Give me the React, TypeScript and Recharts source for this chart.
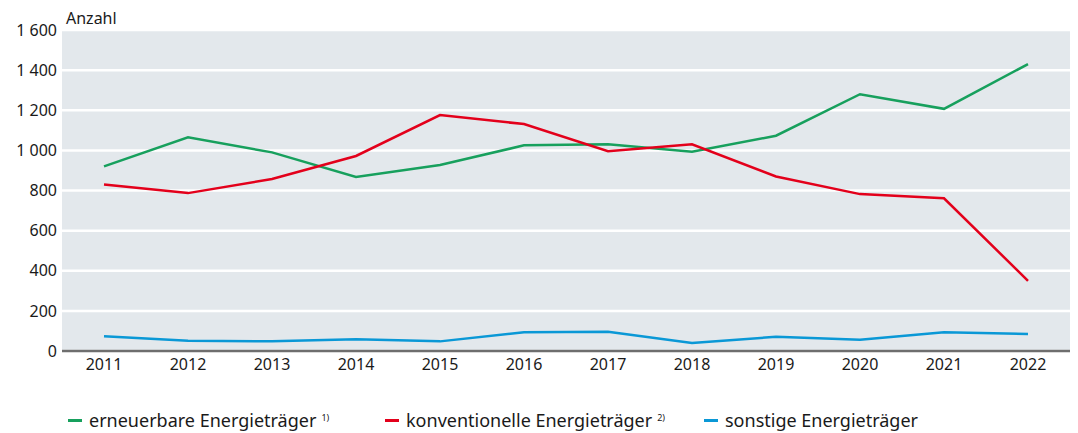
import { LineChart, Line, XAxis, YAxis, CartesianGrid, Legend } from "recharts"

const years = ["2011", "2012", "2013", "2014", "2015", "2016", "2017", "2018", "2019", "2020", "2021", "2022"]
const erneuerbar = [920, 1065, 990, 867, 927, 1025, 1030, 993, 1073, 1280, 1207, 1430]
const konventionell = [830, 787, 857, 972, 1176, 1131, 996, 1030, 870, 782, 761, 350]
const sonstige = [73, 51, 48, 58, 48, 93, 96, 40, 71, 56, 93, 85]
const yTicks = [0, 200, 400, 600, 800, 1000, 1200, 1400, 1600]

const series = [
  { key: "erneuerbar", name: "erneuerbare Energieträger", sup: "1)", color: "#17a05d" },
  { key: "konventionell", name: "konventionelle Energieträger", sup: "2)", color: "#e3001b" },
  { key: "sonstige", name: "sonstige Energieträger", sup: "", color: "#0a98d6" },
]

const data = years.map((year, i) => ({
  year,
  erneuerbar: erneuerbar[i],
  konventionell: konventionell[i],
  sonstige: sonstige[i],
}))

const FONT = "'Noto Sans', sans-serif"

if (typeof document !== "undefined") document.body.style.margin = "0"

const fmt = (v: number) => (v >= 1000 ? `${Math.floor(v / 1000)} ${String(v % 1000).padStart(3, "0")}` : String(v))

function ChartLegend() {
  const widths = [317, 319, 300]
  return (
    <div style={{ display: "flex", paddingLeft: 68, fontFamily: FONT, fontSize: 18, color: "#1a1a1a" }}>
      {series.map((s, i) => (
        <div key={s.key} style={{ width: widths[i], display: "flex", alignItems: "center", whiteSpace: "nowrap" }}>
          <span style={{ display: "inline-block", width: 14, height: 3, background: s.color, marginRight: 7 }} />
          <span>{s.name}</span>
          {s.sup && <sup style={{ fontSize: 9, marginLeft: 5, position: "relative", top: -3 }}>{s.sup}</sup>}
        </div>
      ))}
    </div>
  )
}

export default function App() {
  return (
    <div style={{ position: "relative", width: 1078, height: 433, background: "#fff" }}>
      <div style={{ position: "absolute", left: 66, top: 7, fontFamily: FONT, fontSize: 16, color: "#1a1a1a" }}>Anzahl</div>
      <LineChart width={1078} height={433} data={data} margin={{ top: 30, right: 8, bottom: 0, left: 0 }}>
        <CartesianGrid vertical={false} fill="#e3e8ec" stroke="#ffffff" strokeWidth={2.5} />
        <XAxis
          dataKey="year"
          height={30}
          padding={{ left: 42, right: 42 }}
          tickLine={false}
          tickSize={0}
          tickMargin={8}
          axisLine={{ stroke: "#6e6e6e", strokeWidth: 2.5 }}
          tick={{ fill: "#1a1a1a", fontSize: 16, fontFamily: FONT }}
        />
        <YAxis
          width={62}
          domain={[0, 1600]}
          ticks={yTicks}
          tickFormatter={fmt}
          axisLine={false}
          tickLine={false}
          tickSize={0}
          tickMargin={5}
          tick={{ fill: "#1a1a1a", fontSize: 16, fontFamily: FONT }}
        />
        <Legend
          verticalAlign="bottom"
          height={52}
          content={() => <ChartLegend />}
          wrapperStyle={{ height: 52, paddingTop: 27, boxSizing: "border-box" }}
        />
        {series.map((s) => (
          <Line
            key={s.key}
            type="linear"
            dataKey={s.key}
            name={s.name}
            stroke={s.color}
            strokeWidth={2.5}
            dot={false}
            isAnimationActive={false}
          />
        ))}
      </LineChart>
    </div>
  )
}
